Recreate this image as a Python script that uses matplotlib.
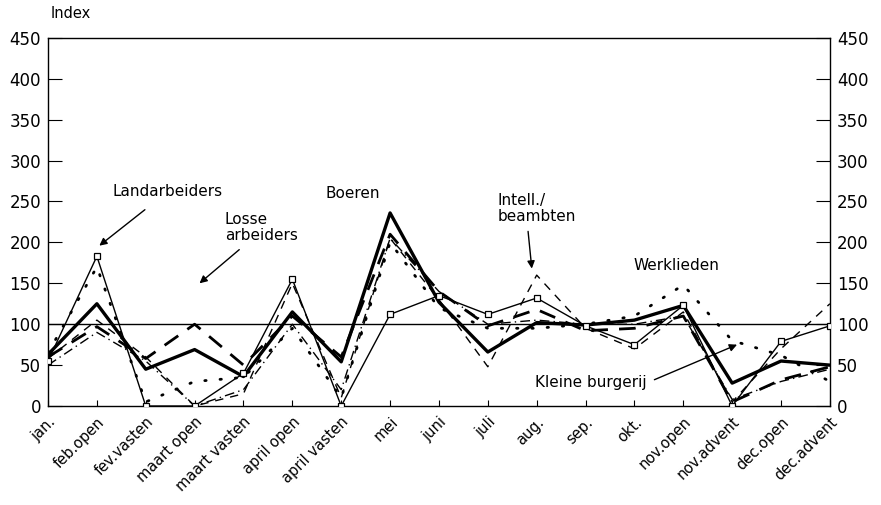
import numpy as np
import matplotlib
matplotlib.use('Agg')
import matplotlib.pyplot as plt

plt.rcParams['font.family'] = ['DejaVu Sans']

maanden = ['jan.', 'feb.open', 'fev.vasten', 'maart open', 'maart vasten',
           'april open', 'april vasten', 'mei', 'juni', 'juli', 'aug.', 'sep.',
           'okt.', 'nov.open', 'nov.advent', 'dec.open', 'dec.advent']

landarbeiders = [55, 183, 0, 0, 40, 155, 0, 112, 135, 112, 132, 98, 75, 123, 0, 79, 98]
boeren = [63, 125, 45, 69, 36, 115, 54, 236, 127, 66, 102, 99, 105, 123, 28, 55, 50]
losse = [60, 97, 58, 100, 50, 110, 60, 210, 140, 98, 118, 92, 95, 110, 5, 32, 48]
intell = [58, 105, 60, 0, 15, 150, 10, 205, 130, 48, 160, 95, 70, 115, 5, 70, 125]
werklieden = [65, 170, 5, 30, 35, 95, 10, 200, 120, 95, 95, 100, 110, 148, 80, 62, 30]
burgerij = [50, 90, 55, 0, 20, 100, 20, 205, 140, 100, 105, 100, 100, 110, 8, 30, 45]

x = np.arange(len(maanden))

fig = plt.figure(figsize=(8.81, 5.05), dpi=100)
ax = fig.add_axes([0.0545, 0.196, 0.8875, 0.729])

ax.plot(x, landarbeiders, color='black', lw=1.0, marker='s', ms=4,
        mfc='white', mec='black', mew=0.9, zorder=5)
ax.plot(x, boeren, color='black', lw=2.4)
ax.plot(x, losse, color='black', lw=2.0, dashes=(6, 4))
ax.plot(x, intell, color='black', lw=1.0, dashes=(6, 5))
ax.plot(x, werklieden, color='black', lw=2.0, linestyle=(0, (0.5, 5)),
        dash_capstyle='round')
ax.plot(x, burgerij, color='black', lw=1.0, dashes=(7, 3, 1, 3))

ax.axhline(100, color='black', lw=1.0)

ax.set_xlim(0, 16)
ax.set_ylim(0, 450)
ax.set_yticks(np.arange(0, 451, 50))
ax.set_xticks(x)
ax.set_xticklabels(maanden, rotation=45, ha='right', rotation_mode='anchor',
                   fontsize=10.5)
ax.tick_params(axis='y', direction='in', length=10, right=True, labelright=True,
               labelsize=12, pad=5)
ax.tick_params(axis='x', direction='in', length=4, pad=6)
for s in ax.spines.values():
    s.set_linewidth(1.0)

ax.text(0.003, 1.045, 'Index', transform=ax.transAxes, fontsize=10.5,
        ha='left', va='bottom')

fs = 11
ax.annotate('Landarbeiders', xy=(1.05, 196), xytext=(2.45, 262),
            ha='center', va='center', fontsize=fs,
            arrowprops=dict(arrowstyle='-|>', color='black', lw=1.0,
                            shrinkA=9, shrinkB=0))
ax.annotate('Losse\narbeiders', xy=(3.1, 150), xytext=(3.62, 218),
            ha='left', va='center', fontsize=fs, linespacing=1.1,
            arrowprops=dict(arrowstyle='-|>', color='black', lw=1.0,
                            shrinkA=4, shrinkB=0, relpos=(0.3, 0)))
ax.text(6.24, 260, 'Boeren', ha='center', va='center', fontsize=fs)
ax.annotate('Intell./\nbeambten', xy=(9.9, 168), xytext=(9.2, 241),
            ha='left', va='center', fontsize=fs, linespacing=1.1,
            arrowprops=dict(arrowstyle='-|>', color='black', lw=1.0,
                            shrinkA=3, shrinkB=0, relpos=(0.38, 0)))
ax.text(12.86, 172, 'Werklieden', ha='center', va='center', fontsize=fs)
ax.annotate('Kleine burgerij', xy=(14.1, 75), xytext=(11.1, 29),
            ha='center', va='center', fontsize=fs,
            arrowprops=dict(arrowstyle='-|>', color='black', lw=1.0,
                            shrinkA=2, shrinkB=0, relpos=(1.05, 0.6)))

fig.savefig('out.png', dpi=100)
